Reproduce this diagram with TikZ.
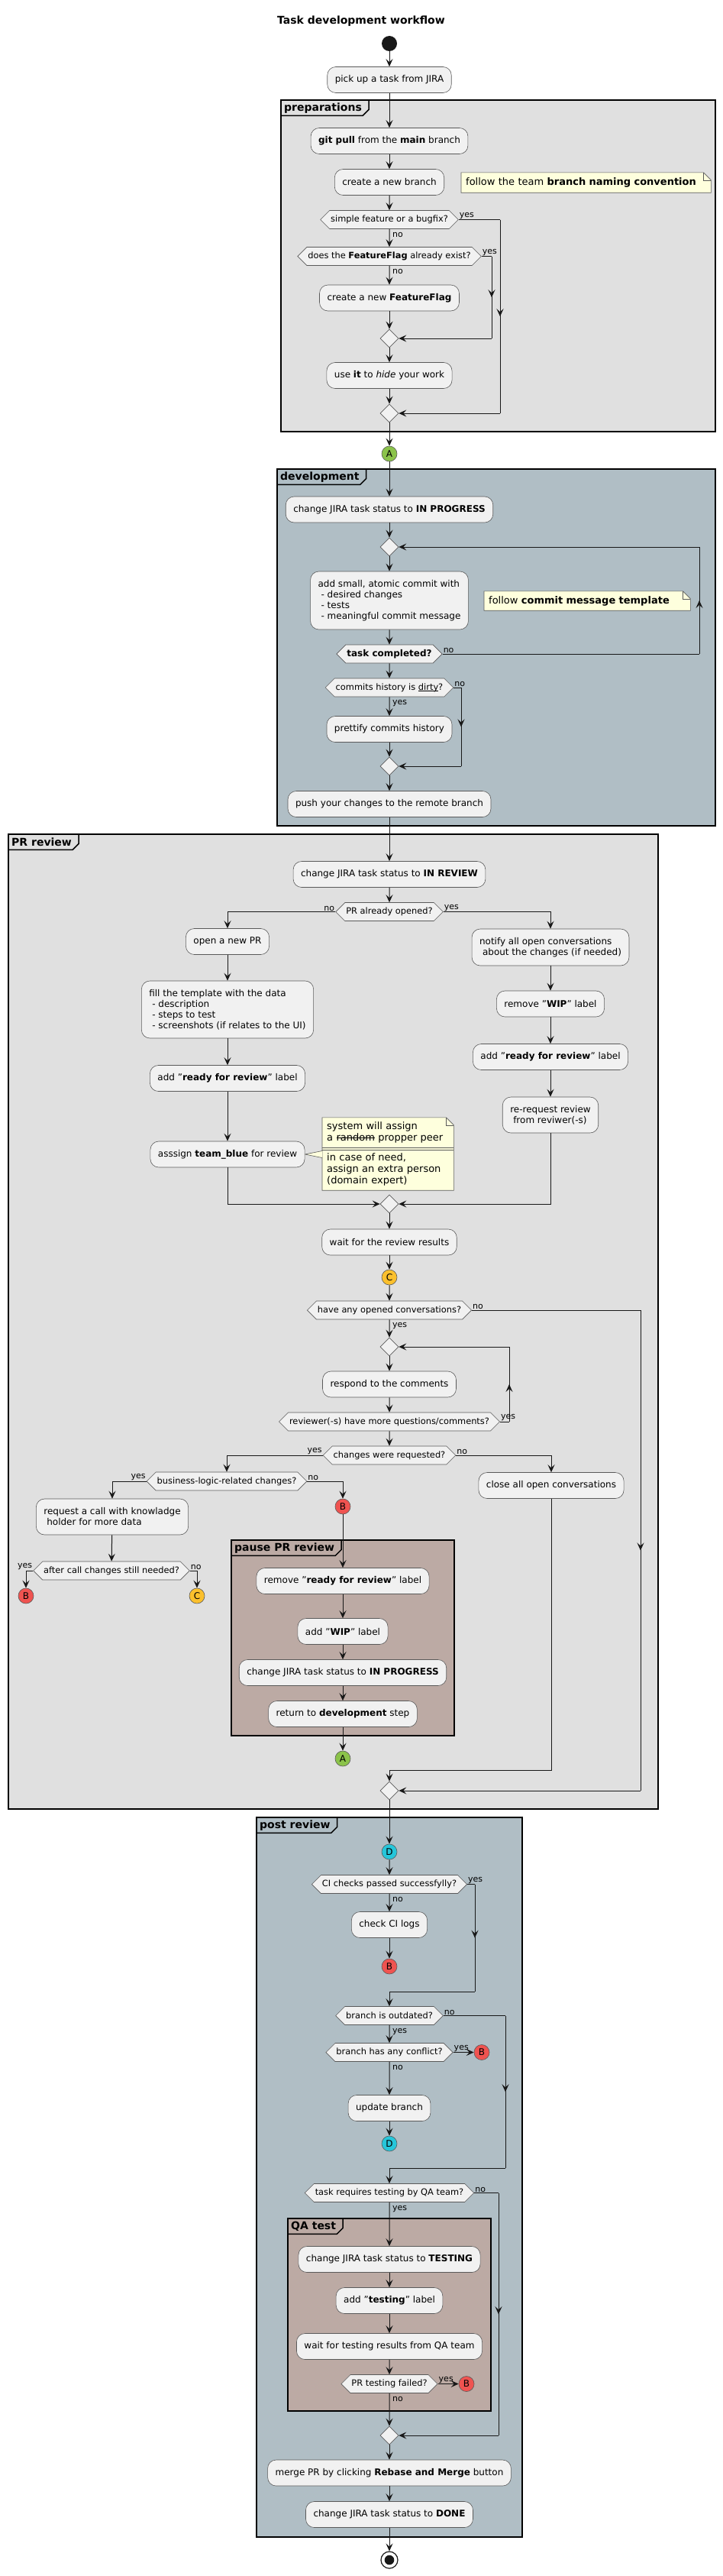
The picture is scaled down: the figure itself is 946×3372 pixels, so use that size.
\documentclass[tikz,border=0pt]{standalone}
\usepackage{fontspec}
\setmainfont{DejaVu Sans}
\usetikzlibrary{shapes.geometric,shapes.symbols,arrows.meta,decorations.markings,backgrounds,calc}
\definecolor{actfill}{HTML}{F1F1F1}
\definecolor{linec}{HTML}{181818}
\definecolor{bordc}{HTML}{5A5A5A}
\definecolor{greyfr}{HTML}{E0E0E0}
\definecolor{bluefr}{HTML}{B0BEC5}
\definecolor{brownfr}{HTML}{BCAAA4}
\definecolor{notec}{HTML}{FEFFDD}
\definecolor{conA}{HTML}{8BC34A}
\definecolor{conB}{HTML}{EF5350}
\definecolor{conC}{HTML}{FBC02D}
\definecolor{conD}{HTML}{26C6DA}
\newcommand\myul[1]{\setbox0\hbox{#1}\rlap{\copy0}\rule[-2pt]{\wd0}{0.7pt}}
\newcommand\mystrike[1]{\setbox0\hbox{#1}\rlap{\copy0}\rule[0.3em]{\wd0}{0.7pt}}
\tikzset{
 act/.style={draw=bordc, line width=0.6pt, fill=actfill, rounded corners=11pt, inner xsep=10pt, inner ysep=0pt, minimum height=34pt, align=left, font=\fontsize{12}{14}\selectfont},
 dec/.style={signal, signal to=west and east, signal pointer angle=90, draw=bordc, line width=0.6pt, fill=actfill, inner xsep=1.5pt, inner ysep=0pt, minimum height=24pt, font=\fontsize{11.4}{13}\selectfont},
 mrg/.style={diamond, draw=bordc, line width=0.6pt, fill=actfill, minimum width=24pt, minimum height=24pt, inner sep=0pt},
 conn/.style={circle, draw=bordc, line width=0.6pt, minimum size=20pt, inner sep=0pt, font=\fontsize{12}{14}\selectfont},
 startc/.style={circle, fill=linec, minimum size=20pt, inner sep=0pt},
 endc/.style={circle, draw=linec, line width=1.2pt, fill=white, minimum size=22pt, inner sep=0pt},
 notetx/.style={rectangle, inner xsep=6pt, inner ysep=0pt, align=left, font=\fontsize{13}{15}\selectfont},
 notebg/.style={draw=bordc, line width=0.6pt, fill=notec},
 lbl/.style={font=\fontsize{11}{13}\selectfont, inner sep=1pt},
 fr/.style={draw=black, line width=1.5pt},
 tabl/.style={anchor=north west, inner xsep=4pt, inner ysep=0pt, minimum height=20pt, font=\fontsize{14}{17}\selectfont\bfseries},
 wire/.style={draw=linec, line width=1pt},
 flow/.style={wire, -{Stealth[length=10pt,width=9pt,inset=4pt]}},
 midarrow/.style={decoration={markings, mark=at position 0.5 with {\arrow{Stealth[length=10pt,width=9pt,inset=4pt]}}}, postaction={decorate}},
}
\newcommand\notebox[1]{%
 \begin{scope}[on background layer]
 \filldraw[notebg] (#1.north west) -- ([xshift=-10pt]#1.north east) -- ([yshift=-10pt]#1.north east) -- (#1.south east) -- (#1.south west) -- cycle;
 \draw[notebg, fill=none] ([xshift=-10pt]#1.north east) |- ([yshift=-10pt]#1.north east);
 \end{scope}}
\begin{document}
\begin{tikzpicture}[x=1pt,y=-1pt]
\useasboundingbox (0,0) rectangle (946,3372);
\begin{scope}[on background layer]
\fill[white] (0,0) rectangle (946,3372);
\draw[fr, fill=greyfr] (368,131) rectangle (937,565);
\draw[fr, fill=bluefr] (363,614) rectangle (937,1081);
\draw[fr, fill=greyfr] (11,1092) rectangle (862,2368);
\draw[fr, fill=brownfr] (303,2016) rectangle (595,2272);
\draw[fr, fill=bluefr] (336,2379) rectangle (684,3321);
\draw[fr, fill=brownfr] (377,2904) rectangle (643,3156);
\end{scope}
% tabs
\node[tabl] (tprep) at (368,131) {preparations};
\node[tabl] (tdev) at (363,614) {development};
\node[tabl] (tpr) at (11,1092) {PR review};
\node[tabl] (tpause) at (303,2016) {pause PR review};
\node[tabl] (tpost) at (336,2379) {post review};
\node[tabl] (tqa) at (377,2904) {QA test};
\foreach \t in {tprep,tdev,tpr,tpause,tpost,tqa}
  \draw[fr] ([xshift=5pt]\t.north east) -- ([xshift=5pt,yshift=8pt]\t.south east) -- ([xshift=-3pt]\t.south east) -- (\t.south west);

\node[font=\fontsize{14}{17}\selectfont\bfseries] (title) at (473,28) {Task development workflow};
\node[startc] (start) at (510,57) {};

% preparations
\node[act] (pick) at (510,104.5) {pick up a task from JIRA};
\node[act] (git) at (510,184.5) {\textbf{git pull} from the \textbf{main} branch};
\node[act] (cnb) at (510,238.5) {create a new branch};
\node[notetx, anchor=west, text width=315pt, minimum height=26pt] (n1) at (604,239) {follow the team \textbf{branch naming convention}};
\notebox{n1}
\node[dec] (d1) at (510,287.5) {simple feature or a bugfix?};
\node[dec] (d2) at (510,335.5) {does the \textbf{FeatureFlag} already exist?};
\node[act] (cff) at (510,390) {create a new \textbf{FeatureFlag}};
\node[mrg] (m1) at (510,443) {};
\node[act] (useit) at (510,491.5) {use \textbf{it} to \textit{hide} your work};
\node[mrg] (m2) at (510,541) {};
\node[conn, fill=conA] (A1) at (510,594) {A};

% development
\node[act] (inprog) at (510,667) {change JIRA task status to \textbf{IN PROGRESS}};
\node[mrg] (loop1) at (510,716) {};
\node[act, minimum height=76pt] (commit) at (510,786) {add small, atomic commit with\\\hspace*{4pt}- desired changes\\\hspace*{4pt}- tests\\\hspace*{4pt}- meaningful commit message};
\node[notetx, anchor=west, text width=258pt, minimum height=25pt] (n2) at (634,786.5) {follow \textbf{commit message template}};
\notebox{n2}
\node[dec, font=\fontsize{12}{14}\selectfont\bfseries] (tc) at (510,856) {task completed?};
\node[dec] (dirty) at (510,900) {commits history is \myul{dirty}?};
\node[act] (pret) at (510,954.5) {prettify commits history};
\node[mrg] (m3) at (510,1003) {};
\node[act] (push) at (510,1052.5) {push your changes to the remote branch};

% PR review
\node[act] (inrev) at (510,1144.5) {change JIRA task status to \textbf{IN REVIEW}};
\node[dec] (pro) at (510,1193.5) {PR already opened?};
\node[act] (openpr) at (298,1232.5) {open a new PR};
\node[act, minimum height=75pt] (fill) at (298,1321.5) {fill the template with the data\\\hspace*{4pt}- description\\\hspace*{4pt}- steps to test\\\hspace*{4pt}- screenshots (if relates to the UI)};
\node[act] (addrfr) at (298,1411.5) {add "\textbf{ready for review}" label};
\node[act] (assign) at (298,1511) {asssign \textbf{team\_blue} for review};
\node[notetx, anchor=west, text width=160pt, minimum height=95pt] (n3) at (422,1510.5) {system will assign\\a \mystrike{random} propper peer\\[11pt]in case of need,\\assign an extra person\\(domain expert)};
\notebox{n3}
\begin{scope}[on background layer]
\filldraw[notebg] ($(n3.west)+(0,-4)$) -- (assign.east) -- ($(n3.west)+(0,5)$);
\draw[bordc, line width=0.6pt] ($(n3.north west)+(0,39.5)$) -- ($(n3.north east)+(0,39.5)$);
\draw[bordc, line width=0.6pt] ($(n3.north west)+(0,42)$) -- ($(n3.north east)+(0,42)$);
\end{scope}
\node[act, minimum height=48pt] (notify) at (721,1240) {notify all open conversations\\\hspace*{4pt}about the changes (if needed)};
\node[act] (rmwip) at (721,1314) {remove "\textbf{WIP}" label};
\node[act] (addrfr2) at (721,1383.5) {add "\textbf{ready for review}" label};
\node[act, minimum height=47pt] (rereq) at (721,1459.5) {re-request review\\\hspace*{4pt}from reviwer(-s)};
\node[mrg] (m4) at (510,1576) {};
\node[act] (wait) at (510,1626) {wait for the review results};
\node[conn, fill=conC] (C1) at (510,1672) {C};
\node[dec] (have) at (510,1715) {have any opened conversations?};
\node[mrg] (loop2) at (510,1763) {};
\node[act] (respond) at (510,1812) {respond to the comments};
\node[dec] (reviewer) at (510,1861) {reviewer(-s) have more questions/comments?};
\node[dec] (changes) at (510,1905) {changes were requested?};
\node[dec] (bl) at (297,1939) {business-logic-related changes?};
\node[act, minimum height=47pt] (call) at (147,1985.5) {request a call with knowladge\\\hspace*{4pt}holder for more data};
\node[conn, fill=conB] (B1) at (449,1972) {B};
\node[act] (close) at (722,1944.5) {close all open conversations};
\node[dec] (after) at (146,2056) {after call changes still needed?};
\node[conn, fill=conB] (B2) at (34,2089) {B};
\node[conn, fill=conC] (C2) at (258,2089) {C};
\node[act] (rmrfr) at (449,2069.5) {remove "\textbf{ready for review}" label};
\node[act] (addwip) at (449,2135.5) {add "\textbf{WIP}" label};
\node[act] (inprog2) at (449,2189.5) {change JIRA task status to \textbf{IN PROGRESS}};
\node[act] (ret) at (449,2243.5) {return to \textbf{development} step};
\node[conn, fill=conA] (A2) at (449,2302) {A};
\node[mrg] (m5) at (510,2344) {};

% post review
\node[conn, fill=conD] (D1) at (510,2424) {D};
\node[dec] (ci) at (510,2466.5) {CI checks passed successfylly?};
\node[act] (cilogs) at (510,2519.5) {check CI logs};
\node[conn, fill=conB] (B3) at (510,2574) {B};
\node[dec] (outd) at (510,2638.5) {branch is outdated?};
\node[dec] (confl) at (510,2686.5) {branch has any conflict?};
\node[conn, fill=conB] (B4) at (631,2686.5) {B};
\node[act] (upd) at (510,2759.5) {update branch};
\node[conn, fill=conD] (D2) at (510,2806) {D};
\node[dec] (qa) at (510,2870.5) {task requires testing by QA team?};
\node[act] (testing) at (510,2957.5) {change JIRA task status to \textbf{TESTING}};
\node[act] (addtest) at (510,3011.5) {add "\textbf{testing}" label};
\node[act] (waitqa) at (510,3071.5) {wait for testing results from QA team};
\node[dec] (failed) at (510,3120.5) {PR testing failed?};
\node[conn, fill=conB] (B5) at (611,3120.5) {B};
\node[mrg] (m6) at (510,3188) {};
\node[act] (merge) at (510,3237) {merge PR by clicking \textbf{Rebase and Merge} button};
\node[act] (done) at (510,3291.5) {change JIRA task status to \textbf{DONE}};
\node[endc] (end) at (510,3351) {};
\fill[linec] (end.center) circle (6.3pt);

% bypass corner coordinates
\coordinate (y1a) at (655,287.5); \coordinate (y1b) at (655,541);
\coordinate (y2a) at (644,335.5); \coordinate (y2b) at (644,443);
\coordinate (t1) at (916,856); \coordinate (t2) at (916,716);
\coordinate (dn1) at (604,900); \coordinate (dn2) at (604,1003);
\coordinate (h1) at (839,1715); \coordinate (h2) at (839,2344);
\coordinate (r1) at (667,1861); \coordinate (r2) at (667,1763);
\coordinate (cl2) at (510,2317);
\coordinate (ci1) at (622,2466.5); \coordinate (ci2) at (622,2607); \coordinate (ci3) at (510,2607);
\coordinate (o1) at (662,2638.5); \coordinate (o2) at (662,2838); \coordinate (o3) at (510,2838);
\coordinate (q1) at (653,2870.5); \coordinate (q2) at (653,3188);

% connectors
\draw[flow] (start) -- (pick);
\draw[flow] (pick) -- (git);
\draw[flow] (git) -- (cnb);
\draw[flow] (cnb) -- (d1);
\draw[flow] (d1) -- (d2);
\draw[flow] (d2) -- (cff);
\draw[flow] (cff) -- (m1);
\draw[flow] (m1) -- (useit);
\draw[flow] (useit) -- (m2);
\draw[flow] (m2) -- (A1);
\draw[wire] (d1.east) -- (y1a); \draw[wire, midarrow] (y1a) -- (y1b); \draw[flow] (y1b) -- (m2.east);
\draw[wire] (d2.east) -- (y2a); \draw[wire, midarrow] (y2a) -- (y2b); \draw[flow] (y2b) -- (m1.east);

\draw[flow] (A1) -- (inprog);
\draw[flow] (inprog) -- (loop1);
\draw[flow] (loop1) -- (commit);
\draw[flow] (commit) -- (tc);
\draw[flow] (tc) -- (dirty);
\draw[flow] (dirty) -- (pret);
\draw[flow] (pret) -- (m3);
\draw[flow] (m3) -- (push);
\draw[wire] (tc.east) -- (t1); \draw[wire, midarrow] (t1) -- (t2); \draw[flow] (t2) -- (loop1.east);
\draw[wire] (dirty.east) -- (dn1); \draw[wire, midarrow] (dn1) -- (dn2); \draw[flow] (dn2) -- (m3.east);

\draw[flow] (push) -- (inrev);
\draw[flow] (inrev) -- (pro);
\draw[flow] (pro.west) -| (openpr.north);
\draw[flow] (pro.east) -| (notify.north);
\draw[flow] (openpr) -- (fill);
\draw[flow] (fill) -- (addrfr);
\draw[flow] (addrfr) -- (assign);
\draw[flow] (notify) -- (rmwip);
\draw[flow] (rmwip) -- (addrfr2);
\draw[flow] (addrfr2) -- (rereq);
\draw[flow] (assign.south) |- (m4.west);
\draw[flow] (rereq.south) |- (m4.east);
\draw[flow] (m4) -- (wait);
\draw[flow] (wait) -- (C1);
\draw[flow] (C1) -- (have);
\draw[flow] (have) -- (loop2);
\draw[flow] (loop2) -- (respond);
\draw[flow] (respond) -- (reviewer);
\draw[flow] (reviewer) -- (changes);
\draw[wire] (reviewer.east) -- (r1); \draw[wire, midarrow] (r1) -- (r2); \draw[flow] (r2) -- (loop2.east);
\draw[wire] (have.east) -- (h1); \draw[wire, midarrow] (h1) -- (h2); \draw[flow] (h2) -- (m5.east);
\draw[flow] (changes.west) -| (bl.north);
\draw[flow] (changes.east) -| (close.north);
\draw[flow] (bl.west) -| (call.north);
\draw[flow] (bl.east) -| (B1.north);
\draw[flow] (call) -- (after);
\draw[flow] (after.west) -| (B2.north);
\draw[flow] (after.east) -| (C2.north);
\draw[flow] (B1) -- (rmrfr);
\draw[flow] (rmrfr) -- (addwip);
\draw[flow] (addwip) -- (inprog2);
\draw[flow] (inprog2) -- (ret);
\draw[flow] (ret) -- (A2);
\draw[flow] (close.south) |- (cl2) -- (m5.north);
\draw[flow] (m5) -- (D1);

\draw[flow] (D1) -- (ci);
\draw[flow] (ci) -- (cilogs);
\draw[flow] (cilogs) -- (B3);
\draw[wire] (ci.east) -- (ci1); \draw[wire, midarrow] (ci1) -- (ci2); \draw[flow] (ci2) -- (ci3) -- (outd.north);
\draw[flow] (outd) -- (confl);
\draw[flow] (confl.east) -- (B4);
\draw[flow] (confl) -- (upd);
\draw[flow] (upd) -- (D2);
\draw[wire] (outd.east) -- (o1); \draw[wire, midarrow] (o1) -- (o2); \draw[flow] (o2) -- (o3) -- (qa.north);
\draw[flow] (qa) -- (testing);
\draw[flow] (testing) -- (addtest);
\draw[flow] (addtest) -- (waitqa);
\draw[flow] (waitqa) -- (failed);
\draw[flow] (failed.east) -- (B5);
\draw[flow] (failed) -- (m6);
\draw[wire] (qa.east) -- (q1); \draw[wire, midarrow] (q1) -- (q2); \draw[flow] (q2) -- (m6.east);
\draw[flow] (m6) -- (merge);
\draw[flow] (merge) -- (done);
\draw[flow] (done) -- (end);

% labels
\node[lbl, anchor=south west] at (d1.east) {yes};
\node[lbl, anchor=north west] at ([xshift=3pt,yshift=-3pt]d1.south) {no};
\node[lbl, anchor=south west] at (d2.east) {yes};
\node[lbl, anchor=north west] at ([xshift=3pt,yshift=-3pt]d2.south) {no};
\node[lbl, anchor=south west] at (tc.east) {no};
\node[lbl, anchor=south west] at (dirty.east) {no};
\node[lbl, anchor=north west] at ([xshift=3pt,yshift=-3pt]dirty.south) {yes};
\node[lbl, anchor=south east] at (pro.west) {no};
\node[lbl, anchor=south west] at (pro.east) {yes};
\node[lbl, anchor=south west] at (have.east) {no};
\node[lbl, anchor=north west] at ([xshift=3pt,yshift=-3pt]have.south) {yes};
\node[lbl, anchor=south west] at (reviewer.east) {yes};
\node[lbl, anchor=south east] at (changes.west) {yes};
\node[lbl, anchor=south west] at (changes.east) {no};
\node[lbl, anchor=south east] at (bl.west) {yes};
\node[lbl, anchor=south west] at (bl.east) {no};
\node[lbl, anchor=south east] at (after.west) {yes};
\node[lbl, anchor=south west] at (after.east) {no};
\node[lbl, anchor=south west] at (ci.east) {yes};
\node[lbl, anchor=north west] at ([xshift=3pt,yshift=-3pt]ci.south) {no};
\node[lbl, anchor=south west] at (outd.east) {no};
\node[lbl, anchor=north west] at ([xshift=3pt,yshift=-3pt]outd.south) {yes};
\node[lbl, anchor=south west] at (confl.east) {yes};
\node[lbl, anchor=north west] at ([xshift=3pt,yshift=-3pt]confl.south) {no};
\node[lbl, anchor=south west] at (qa.east) {no};
\node[lbl, anchor=north west] at ([xshift=3pt,yshift=-3pt]qa.south) {yes};
\node[lbl, anchor=south west] at (failed.east) {yes};
\node[lbl, anchor=north west] at ([xshift=3pt,yshift=-3pt]failed.south) {no};
\end{tikzpicture}
\end{document}
